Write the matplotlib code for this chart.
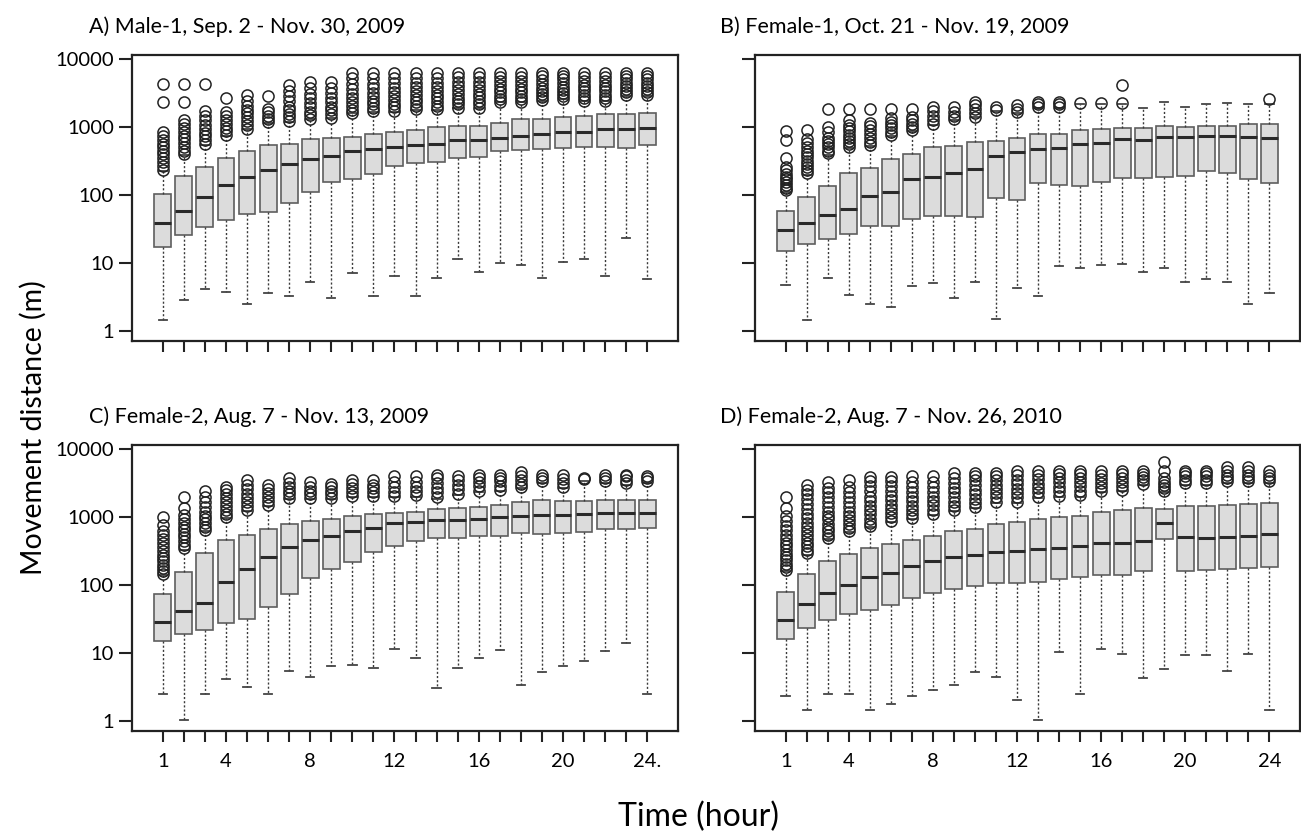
import matplotlib
matplotlib.use("Agg")
import matplotlib.pyplot as plt
from matplotlib.ticker import NullLocator

plt.rcParams['font.family'] = ['Lato', 'DejaVu Sans']

hours = list(range(1, 25))
xlabels_c = ['1', '', '', '4', '', '', '', '8', '', '', '', '12', '', '', '', '16', '', '', '', '20', '', '', '', '24.']
xlabels_d = ['1', '', '', '4', '', '', '', '8', '', '', '', '12', '', '', '', '16', '', '', '', '20', '', '', '', '24']
ytick_vals = [1, 10, 100, 1000, 10000]
ytick_text = ['1', '10', '100', '1000', '10000']

titles = ["A) Male-1, Sep. 2 - Nov. 30, 2009",
          "B) Female-1, Oct. 21 - Nov. 19, 2009",
          "C) Female-2, Aug. 7 - Nov. 13, 2009",
          "D) Female-2, Aug. 7 - Nov. 26, 2010"]

# ---- A) Male-1 ----
A_lo = [1.45, 2.86, 4.1, 3.79, 2.5, 3.58, 3.27, 5.25, 3.09, 7.2, 3.27, 6.5, 3.27, 6.1, 11.3, 7.46, 9.9, 9.34, 5.95, 10.2, 11.3, 6.4, 23, 5.75]
A_q1 = [17, 25.8, 33.5, 42.9, 52, 56.9, 77, 112, 157, 170, 203, 270, 292, 310, 347, 366, 443, 458, 468, 486, 502, 512, 497, 543]
A_med = [38.7, 58.9, 94.5, 140, 184, 233, 286, 333, 375, 449, 475, 512, 543, 556, 645, 645, 697, 738, 789, 855, 855, 935, 935, 980]
A_q3 = [104, 190, 261, 354, 449, 543, 562, 657, 680, 720, 789, 855, 903, 990, 1035, 1040, 1158, 1312, 1312, 1420, 1450, 1535, 1535, 1590]
A_hi = [225, 385, 540, 735, 920, 1150, 1200, 1290, 1340, 1590, 1680, 1680, 1780, 1780, 1880, 1880, 2300, 2300, 2450, 2550, 2400, 2400, 2900, 2900]
A_fl = [
    [235, 270, 310, 350, 400, 450, 510, 570, 650, 740, 850, 2350, 4300],
    [400, 450, 510, 580, 660, 750, 850, 960, 1100, 1270, 2350, 4300],
    [560, 640, 730, 830, 950, 1080, 1250, 1450, 1700, 4300],
    [760, 860, 980, 1120, 1280, 1450, 1680, 2700],
    [950, 1080, 1230, 1400, 1600, 1800, 2050, 2400, 2950],
    [1180, 1300, 1450, 1650, 1850, 2900],
    [1230, 1380, 1550, 1750, 2000, 2400, 2900, 3400, 4100],
    [1320, 1480, 1680, 1950, 2250, 2650, 3100, 3700, 4600],
    [1370, 1530, 1750, 2000, 2300, 2700, 3200, 3800, 4600],
    [1620, 1800, 2050, 2350, 2700, 3100, 3600, 4300, 5200, 6300],
    [1720, 1900, 2150, 2450, 2800, 3200, 3700, 4300, 5200, 6300],
    [1720, 1950, 2200, 2500, 2850, 3300, 3800, 4400, 5300, 6300],
    [1820, 2050, 2300, 2600, 2950, 3400, 3900, 4500, 5300, 6300],
    [1820, 2050, 2300, 2650, 3000, 3400, 3900, 4500, 5300, 6300],
    [1920, 2150, 2400, 2700, 3050, 3500, 4000, 4600, 5400, 6300],
    [1920, 2150, 2450, 2750, 3100, 3500, 4000, 4600, 5400, 6300],
    [2350, 2600, 2900, 3250, 3650, 4100, 4700, 5400, 6300],
    [2350, 2600, 2900, 3250, 3650, 4100, 4700, 5400, 6300],
    [2480, 2750, 3050, 3400, 3800, 4300, 4900, 5600, 6300],
    [2600, 2850, 3150, 3500, 3900, 4400, 5000, 5600, 6300],
    [2450, 2700, 3000, 3350, 3750, 4200, 4800, 5500, 6300],
    [2450, 2700, 3000, 3350, 3750, 4200, 4800, 5500, 6300],
    [2950, 3250, 3600, 4000, 4450, 5000, 5600, 6300],
    [2950, 3250, 3600, 4000, 4450, 5000, 5600, 6300],
]

# ---- B) Female-1 ----
B_lo = [4.75, 1.45, 5.95, 3.38, 2.5, 2.28, 4.6, 5.0, 3.09, 5.2, 1.49, 4.34, 3.27, 9.0, 8.5, 9.34, 9.55, 7.46, 8.5, 5.2, 5.8, 5.2, 2.5, 3.66]
B_q1 = [15, 18.8, 22.3, 26.7, 35, 35, 43.9, 49.3, 49.3, 46.9, 89.4, 83.5, 151, 140, 137, 153, 176, 176, 182, 192, 228, 213, 172, 148]
B_med = [31, 38.3, 50.8, 62.2, 98, 112, 172, 186, 213, 238, 379, 424, 480, 497, 556, 575, 660, 645, 720, 720, 743, 738, 720, 697]
B_q3 = [58.2, 94.5, 137, 213, 253, 335, 400, 502, 525, 595, 622, 697, 789, 789, 903, 925, 955, 955, 1045, 1010, 1045, 1045, 1090, 1090]
B_hi = [112, 200, 390, 490, 520, 740, 880, 1060, 1260, 1380, 1700, 1600, 1900, 1900, 2150, 2150, 2150, 1920, 2300, 1940, 2180, 2280, 2180, 2200]
B_fl = [
    [118, 128, 140, 155, 170, 185, 205, 230, 260, 347, 645, 870],
    [208, 230, 255, 285, 320, 360, 400, 450, 510, 580, 660, 903],
    [410, 450, 500, 560, 620, 700, 850, 1000, 1840],
    [512, 560, 620, 690, 770, 860, 960, 1080, 1260, 1840],
    [543, 600, 680, 780, 900, 1050, 1130, 1840],
    [760, 850, 960, 1080, 1200, 1340, 1840],
    [900, 1000, 1120, 1250, 1400, 1840],
    [1090, 1250, 1450, 1700, 1940],
    [1290, 1450, 1650, 1940],
    [1420, 1600, 1850, 2100, 2350],
    [1780, 1940],
    [1680, 1850, 2100],
    [2000, 2150, 2300],
    [2000, 2150, 2300],
    [2280],
    [2280],
    [2280, 4150],
    [], [], [], [], [], [],
    [2570],
]

# ---- C) Female-2, 2009 ----
C_lo = [2.53, 1.02, 2.53, 4.2, 3.17, 2.53, 5.46, 4.45, 6.5, 6.77, 6.1, 11.6, 8.5, 3.06, 6.1, 8.5, 11, 3.36, 5.3, 6.4, 7.6, 10.7, 13.8, 2.53]
C_q1 = [14.9, 19.2, 21.7, 27.2, 31.2, 47.9, 72.8, 128, 174, 221, 311, 376, 445, 499, 488, 534, 534, 590, 565, 590, 611, 662, 670, 684]
C_med = [28.8, 41.4, 53.7, 109, 172, 259, 364, 460, 527, 632, 684, 812, 850, 910, 910, 940, 994, 1041, 1053, 1075, 1113, 1150, 1150, 1164]
C_q3 = [73.6, 154, 300, 460, 546, 670, 794, 878, 940, 1025, 1090, 1138, 1205, 1304, 1334, 1397, 1479, 1636, 1750, 1691, 1691, 1750, 1750, 1790]
C_hi = [140, 330, 620, 960, 1230, 1450, 1850, 1850, 1850, 1950, 1950, 1950, 2000, 1850, 2100, 2350, 2400, 2650, 3200, 2650, 3400, 3200, 3000, 3200]
C_fl = [
    [145, 160, 180, 200, 225, 250, 280, 320, 360, 410, 470, 540, 620, 760, 1000],
    [348, 390, 440, 500, 560, 640, 720, 820, 940, 1080, 1350, 1950],
    [647, 720, 810, 920, 1050, 1200, 1400, 1650, 1950, 2380],
    [1000, 1120, 1270, 1450, 1650, 1900, 2200, 2500, 2800],
    [1275, 1450, 1650, 1900, 2200, 2600, 3000, 3530],
    [1510, 1700, 1950, 2250, 2600, 2980],
    [1900, 2150, 2450, 2800, 3200, 3730],
    [1900, 2150, 2450, 2800, 3220],
    [1900, 2150, 2450, 2750, 3100],
    [2030, 2300, 2650, 3050, 3530],
    [2030, 2300, 2650, 3000, 3450],
    [2030, 2350, 2750, 3300, 3980],
    [2100, 2400, 2800, 3300, 3980],
    [1950, 2300, 2700, 3200, 3700, 4180],
    [2200, 2550, 2950, 3450, 3980],
    [2450, 2850, 3300, 3800, 4180],
    [2500, 2900, 3350, 3800, 4180],
    [2750, 3100, 3500, 4000, 4530],
    [3350, 3750, 4180],
    [2750, 3150, 3650, 4180],
    [3600, 3700],
    [3350, 3750, 4180],
    [3150, 3550, 4000, 4180],
    [3350, 3700, 4050],
]

# ---- D) Female-2, 2010 ----
D_lo = [2.31, 1.47, 2.53, 2.53, 1.47, 1.76, 2.31, 2.9, 3.39, 5.3, 4.45, 2.02, 1.02, 10.2, 2.53, 11.3, 9.7, 4.3, 5.9, 9.3, 9.3, 5.46, 9.6, 1.47]
D_q1 = [16, 23.5, 30.8, 37.3, 42.8, 51, 65, 77, 86.3, 98, 108, 108, 112, 124, 133, 138, 140, 161, 471, 159, 164, 172, 178, 186]
D_med = [30.5, 53, 75.4, 99, 131, 148, 193, 223, 256, 274, 311, 320, 339, 351, 380, 408, 417, 451, 813, 504, 493, 505, 534, 565]
D_q3 = [79.6, 145, 229, 288, 348, 401, 466, 534, 631, 662, 794, 839, 929, 995, 1025, 1191, 1248, 1365, 1320, 1475, 1475, 1513, 1580, 1600]
D_hi = [160, 280, 470, 600, 710, 840, 930, 1080, 1230, 1360, 1620, 1620, 1900, 1950, 2000, 2300, 2400, 2950, 2300, 3000, 3000, 3200, 3200, 3200]
D_fl = [
    [166, 185, 205, 230, 260, 290, 330, 370, 420, 480, 550, 640, 750, 880, 1050, 1350, 1980],
    [293, 330, 370, 420, 480, 550, 630, 720, 830, 960, 1100, 1300, 1550, 1850, 2200, 2500, 2950],
    [491, 550, 620, 700, 800, 920, 1050, 1200, 1400, 1650, 1950, 2300, 2700, 3230],
    [616, 700, 800, 910, 1040, 1200, 1400, 1650, 1950, 2300, 2800, 3450],
    [733, 830, 950, 1090, 1250, 1450, 1700, 2000, 2400, 2900, 3400, 3900],
    [870, 990, 1130, 1300, 1500, 1750, 2050, 2400, 2850, 3350, 3900],
    [962, 1100, 1260, 1450, 1700, 2000, 2350, 2800, 3300, 3950],
    [1120, 1280, 1480, 1720, 2000, 2350, 2800, 3300, 3950],
    [1275, 1460, 1680, 1950, 2300, 2700, 3200, 3800, 4400],
    [1410, 1600, 1850, 2150, 2500, 2950, 3500, 4000, 4400],
    [1690, 1950, 2250, 2600, 3000, 3500, 4000, 4430],
    [1690, 1950, 2250, 2600, 3050, 3550, 4100, 4700],
    [1980, 2300, 2650, 3100, 3600, 4150, 4700],
    [2050, 2400, 2800, 3250, 3750, 4250, 4700],
    [2100, 2450, 2850, 3300, 3800, 4300, 4800],
    [2380, 2750, 3150, 3600, 4150, 4800],
    [2500, 2850, 3250, 3750, 4250, 4700],
    [3090, 3450, 3850, 4300, 4700],
    [2380, 2650, 2950, 3300, 3700, 4730, 6470],
    [3150, 3550, 4000, 4400, 4700],
    [3150, 3550, 4000, 4400, 4700],
    [3350, 3750, 4200, 4700, 5400],
    [3350, 3750, 4200, 4700, 5400],
    [3350, 3750, 4200, 4700],
]

panels = [
    (A_lo, A_q1, A_med, A_q3, A_hi, A_fl),
    (B_lo, B_q1, B_med, B_q3, B_hi, B_fl),
    (C_lo, C_q1, C_med, C_q3, C_hi, C_fl),
    (D_lo, D_q1, D_med, D_q3, D_hi, D_fl),
]

W, H = 1301, 835
fig = plt.figure(figsize=(W / 100, H / 100), dpi=100)

# axes boxes in pixels: left, right, top, bottom
boxes_px = [(132, 678, 55, 341), (755, 1300, 55, 341),
            (132, 678, 445, 731), (755, 1300, 445, 731)]
title_px = [(89, 33), (720, 33), (89, 423), (720, 423)]

for i, (lo, q1, med, q3, hi, fl) in enumerate(panels):
    l, r, t, b = boxes_px[i]
    ax = fig.add_axes([l / W, (H - b) / H, (r - l) / W, (b - t) / H])
    ax.set_yscale('log')
    stats = []
    for k in range(24):
        stats.append(dict(whislo=lo[k], q1=q1[k], med=med[k], q3=q3[k],
                          whishi=hi[k], fliers=fl[k]))
    ax.bxp(stats, positions=hours, widths=0.8, capwidths=0.4, patch_artist=True,
           boxprops=dict(facecolor='#dcdcdc', edgecolor='#5e5e5e', linewidth=1.2),
           medianprops=dict(color='#2a2a2a', linewidth=2.2),
           whiskerprops=dict(color='#3a3a3a', linewidth=1.0, linestyle=(0, (1.5, 1.5))),
           capprops=dict(color='#444444', linewidth=1.3),
           flierprops=dict(marker='o', markerfacecolor='none', markeredgecolor='#222222',
                           markersize=8, markeredgewidth=1.1))
    ax.set_xlim(-0.46, 25.46)
    ax.set_ylim(10 ** -0.147, 10 ** 4.059)
    ax.set_yticks(ytick_vals)
    ax.yaxis.set_minor_locator(NullLocator())
    ax.set_xticks(hours)
    if i % 2 == 0:
        ax.set_yticklabels(ytick_text)
    else:
        ax.set_yticklabels([''] * 5)
    if i == 2:
        ax.set_xticklabels(xlabels_c)
    elif i == 3:
        ax.set_xticklabels(xlabels_d)
    else:
        ax.set_xticklabels([''] * 24)
    ax.tick_params(axis='y', length=9.5, width=1.5, pad=3.5, labelsize=14.5, color='#222222')
    ax.tick_params(axis='x', length=8, width=1.5, pad=8, labelsize=14.5, color='#222222')
    for sp in ax.spines.values():
        sp.set_linewidth(1.6)
        sp.set_color('#222222')
    tx, ty = title_px[i]
    fig.text(tx / W, 1 - ty / H, titles[i], fontsize=15.5, ha='left', va='baseline')

fig.text(33 / W, 1 - 428 / H, 'Movement distance (m)', fontsize=20.5, rotation=90,
         ha='center', va='center')
fig.text(698 / W, 1 - 826 / H, 'Time (hour)', fontsize=23, ha='center', va='baseline')

fig.savefig('out.png', dpi=100)
